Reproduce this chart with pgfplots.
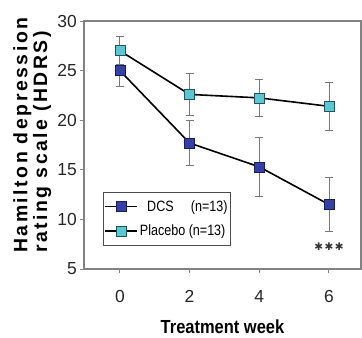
\documentclass[border=0pt]{standalone}
\usepackage{fontspec}
\setmainfont{Liberation Sans}
\newfontfamily\narrowfont[FakeStretch=0.84]{Liberation Sans}
\newfontfamily\xlabfont[FakeStretch=0.87]{Liberation Sans}
\newfontfamily\ylabfont[LetterSpace=13]{Liberation Sans}
\newfontfamily\djv{DejaVu Sans}
\usepackage{pgfplots}
\pgfplotsset{compat=1.18}
\definecolor{dcsblue}{RGB}{52,64,168}
\definecolor{dcsedge}{RGB}{25,30,90}
\definecolor{plcyan}{RGB}{88,200,210}
\definecolor{pledge}{RGB}{40,80,95}
\definecolor{axgray}{RGB}{130,130,130}
\definecolor{errgray}{RGB}{120,120,120}
\begin{document}
\begin{tikzpicture}
\useasboundingbox (-84bp,-69bp) rectangle (278bp,269bp);
\begin{axis}[
  name=ax,
  scale only axis,
  width=277bp, height=248bp,
  xmin=-1.03, xmax=6.92,
  ymin=5, ymax=30,
  xtick={0,2,4,6},
  ytick={5,10,15,20,25,30},
  tick pos=left,
  tick align=outside,
  major tick length=4bp,
  axis line style={axgray, line width=1.1bp},
  tick style={axgray, line width=0.9bp},
  /pgf/number format/assume math mode=true,
  ticklabel style={font=\fontsize{17.5}{20}\selectfont, text=black!85},
  yticklabel style={inner sep=0pt, anchor=east, xshift=-3bp},
  xticklabel style={inner sep=0pt, anchor=north, yshift=-17bp},
  clip=false,
  legend style={at={(0.0686,0.3105)}, anchor=north west,
    draw=black!70, line width=0.7bp,
    font=\narrowfont\fontsize{15}{17}\selectfont,
    inner xsep=1bp, inner ysep=6bp, row sep=8bp,
    cells={anchor=west}},
  legend image code/.code={%
    \draw[mark repeat=2,mark phase=2,#1] plot coordinates {(0bp,0bp) (16bp,0bp) (32bp,0bp)};},
  xlabel={Treatment week},
  xlabel style={at={(rel axis cs:0.5,0)}, anchor=north, yshift=-51bp, inner sep=0pt,
    font=\xlabfont\bfseries\fontsize{19}{22}\selectfont},
]
\addplot[black, line width=1.6bp, mark=square*, mark size=5bp,
  mark options={fill=dcsblue, draw=dcsedge, line width=0.6bp},
  error bars/.cd, y dir=both, y explicit,
  error bar style={errgray, line width=0.8bp},
  error mark options={errgray, line width=0.8bp, mark size=4bp, rotate=90}]
  coordinates {
  (0,25.0) +- (0,1.6)
  (2,17.7) +- (0,2.3)
  (4,15.3) +- (0,3.0)
  (6,11.5) +- (0,2.7)
};
\addlegendentry{\makebox[41bp][c]{DCS}\hspace{10bp}(n=13)}
\addplot[black, line width=1.6bp, mark=square*, mark size=5bp,
  mark options={fill=plcyan, draw=pledge, line width=0.6bp},
  error bars/.cd, y dir=both, y explicit,
  error bar style={errgray, line width=0.8bp},
  error mark options={errgray, line width=0.8bp, mark size=4bp, rotate=90}]
  coordinates {
  (0,27.0) +- (0,1.4)
  (2,22.6) +- (0,2.1)
  (4,22.25) +- (0,1.9)
  (6,21.4) +- (0,2.4)
};
\addlegendentry{Placebo (n=13)}
\node[text=black!80, inner sep=0pt] at (axis cs:6,7.2) {\djv\fontsize{10.5}{11}\selectfont ✱\kern1.5bp✱\kern1.5bp✱};
\node[rotate=90, anchor=north west, align=left, inner sep=0pt,
  font=\ylabfont\bfseries\fontsize{19.5}{20}\selectfont]
  at ([shift={(-71bp,16bp)}]rel axis cs:0,0) {Hamilton depression\\rating scale (HDRS)};
\end{axis}
\end{tikzpicture}
\end{document}
